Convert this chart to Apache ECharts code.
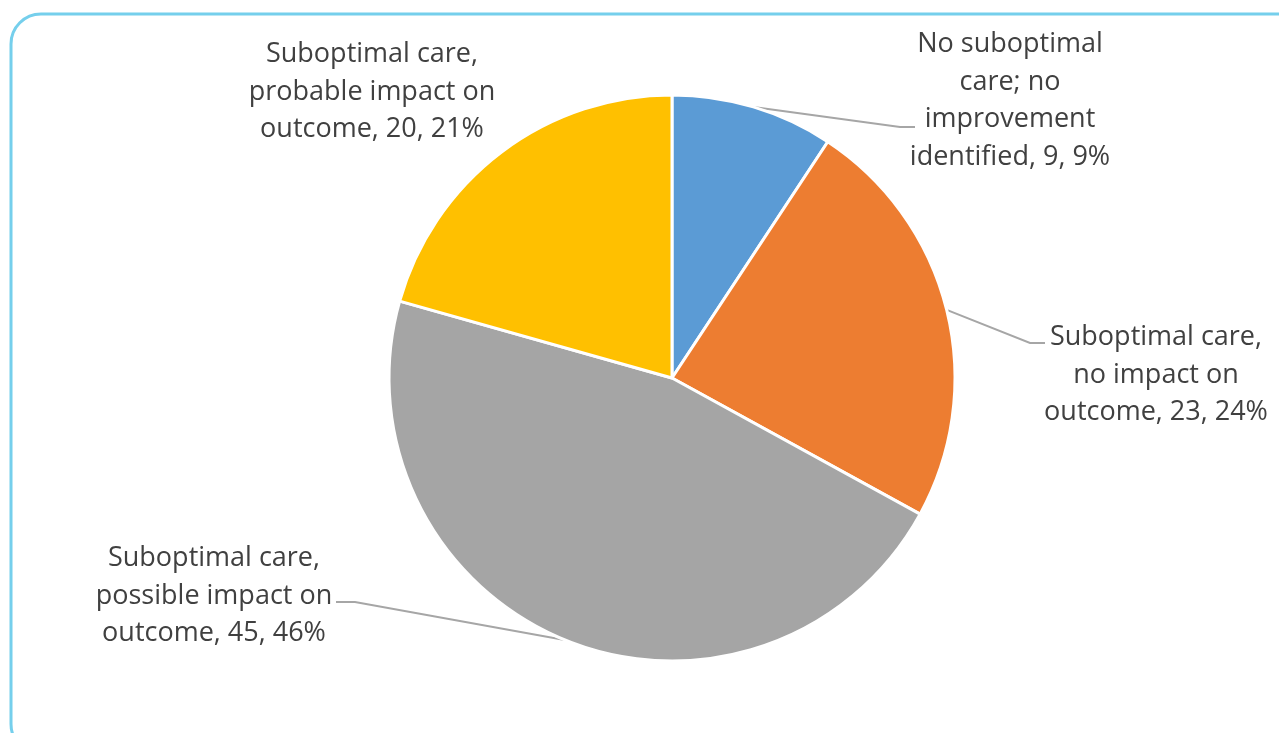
<!DOCTYPE html>
<html>
<head>
<meta charset="utf-8">
<script src="https://cdn.jsdelivr.net/npm/echarts@6/dist/echarts.min.js"></script>
<style>
html,body{margin:0;padding:0;background:#fff;}
#main{width:1279px;height:733px;}
</style>
</head>
<body>
<div id="main"></div>
<script>
const categories = [
  'No suboptimal\ncare; no\nimprovement\nidentified',
  'Suboptimal care,\nno impact on\noutcome',
  'Suboptimal care,\npossible impact on\noutcome',
  'Suboptimal care,\nprobable impact on\noutcome'
];
const values = [9, 23, 45, 20];
const percentLabels = ['9%', '24%', '46%', '21%'];
const colors = ['#5B9BD5', '#ED7D31', '#A5A5A5', '#FFC000'];
const labelPos = [[1010, 101], [1156, 375], [214, 596], [372, 92]];
// leader line end offsets relative to label centre, and elbow length
const lineEnds = [[-95, 26, -15], [-111, -32, -15], [122, 6, 19], null];

const chart = echarts.init(document.getElementById('main'));
const data = categories.map((c, i) => ({
  name: c,
  value: values[i],
  itemStyle: { color: colors[i] },
  labelLine: { show: i !== 3 }
}));
chart.setOption({
  animation: false,
  graphic: [{
    type: 'rect',
    shape: { x: 11, y: 14, width: 1300, height: 740, r: 30 },
    style: { fill: 'none', stroke: '#75CFEC', lineWidth: 3 },
    z: -1
  }],
  series: [{
    type: 'pie',
    center: [672, 378],
    radius: [0, 283],
    startAngle: 90,
    clockwise: true,
    data: data,
    itemStyle: { borderColor: '#fff', borderWidth: 3 },
    label: {
      show: true,
      formatter: p => p.name + ', ' + p.value + ', ' + percentLabels[p.dataIndex],
      fontFamily: 'Open Sans',
      fontSize: 27,
      lineHeight: 37.5,
      color: '#404040',
      align: 'center'
    },
    labelLine: {
      show: true,
      lineStyle: { color: '#A6A6A6', width: 2 },
      length: 20,
      length2: 15
    },
    labelLayout: function (p) {
      const i = p.dataIndex;
      const pos = labelPos[i];
      const res = { x: pos[0], y: pos[1], align: 'center', verticalAlign: 'middle' };
      const le = lineEnds[i];
      if (le && p.labelLinePoints) {
        const a = p.labelLinePoints[0];
        const ex = pos[0] + le[0], ey = pos[1] + le[1];
        res.labelLinePoints = [[a[0], a[1]], [ex + le[2], ey], [ex, ey]];
      }
      return res;
    }
  }]
});
</script>
</body>
</html>
